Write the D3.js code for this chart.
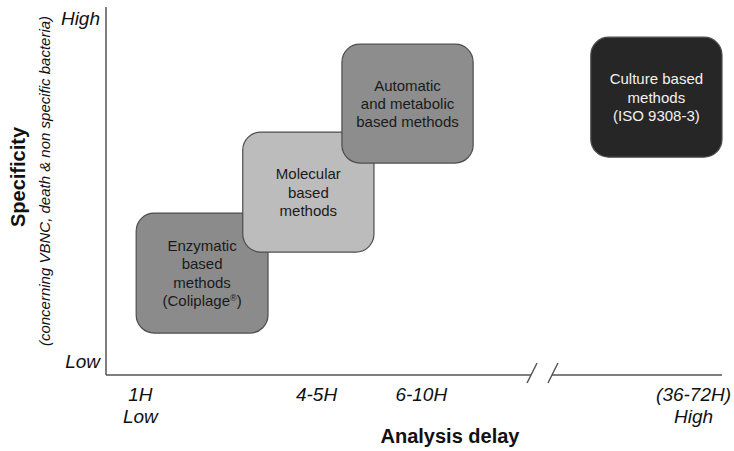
<!DOCTYPE html>
<html>
<head>
<meta charset="utf-8">
<script src="https://cdn.jsdelivr.net/npm/d3@7"></script>
<style>
  body { margin: 0; background: #fff; }
  text { font-family: "Liberation Sans", Arial, sans-serif; }
  .tick-label { font-style: italic; font-size: 19px; fill: #111; }
  .axis-title { font-weight: bold; font-size: 20px; fill: #111; }
  .box { stroke: #4d4d4d; stroke-width: 1.2; }
</style>
</head>
<body>
<svg id="chart" width="734" height="451"></svg>
<script>
// Delay (x) and specificity (y) are on a relative 0-100 scale
const methods = ["Enzymatic", "Molecular", "Automatic", "Culture"];
const boxLabels = [
  ["Enzymatic", "based", "methods", "(Coliplage\u00ae)"],
  ["Molecular", "based", "methods"],
  ["Automatic", "and metabolic", "based methods"],
  ["Culture based", "methods", "(ISO 9308-3)"]
];
const delayFrom = [4.9, 22.2, 38.3, 78.7];
const delayTo = [26.3, 43.5, 59.6, 100];
const specFrom = [11.4, 33.4, 57.6, 59.2];
const specTo = [44.0, 66.0, 89.9, 91.8];

const xTickValues = [5.5, 34.1, 51.1, 95.3];
const xTickLabels = [["1H", "Low"], ["4-5H"], ["6-10H"], ["(36-72H)", "High"]];
const yTickValues = [3.7, 96.9];
const yTickLabels = ["Low", "High"];
const axisBreak = [69.0, 72.4];

const fills = ["#8b8b8b", "#bcbcbc", "#8d8d8d", "#262626"];
const textFills = ["#1a1a1a", "#1a1a1a", "#1a1a1a", "#f2f2f2"];

const svg = d3.select("#chart");
const x = d3.scaleLinear().domain([0, 100]).range([106, 722]);
const y = d3.scaleLinear().domain([0, 100]).range([375, 7]);

// Axis lines (x axis has a break)
const axisColor = "#555";
svg.append("line")
  .attr("x1", x(0)).attr("x2", x(0))
  .attr("y1", y(100)).attr("y2", y(0))
  .attr("stroke", axisColor).attr("stroke-width", 1.5);
svg.append("line")
  .attr("x1", x(0)).attr("x2", x(axisBreak[0]))
  .attr("y1", y(0)).attr("y2", y(0))
  .attr("stroke", axisColor).attr("stroke-width", 1.5);
svg.append("line")
  .attr("x1", x(axisBreak[1])).attr("x2", x(100))
  .attr("y1", y(0)).attr("y2", y(0))
  .attr("stroke", axisColor).attr("stroke-width", 1.5);

svg.selectAll(".slash")
  .data(axisBreak)
  .enter().append("line")
  .attr("class", "slash")
  .attr("x1", d => x(d) - 4).attr("y1", y(0) + 8)
  .attr("x2", d => x(d) + 6).attr("y2", y(0) - 12)
  .attr("stroke", axisColor).attr("stroke-width", 1.5);

// Boxes
const boxes = svg.selectAll(".method")
  .data(methods)
  .enter().append("g")
  .attr("class", "method");

boxes.append("rect")
  .attr("class", "box")
  .attr("x", (d, i) => x(delayFrom[i]))
  .attr("y", (d, i) => y(specTo[i]))
  .attr("width", (d, i) => x(delayTo[i]) - x(delayFrom[i]))
  .attr("height", (d, i) => y(specFrom[i]) - y(specTo[i]))
  .attr("rx", 18).attr("ry", 18)
  .attr("fill", (d, i) => fills[i]);

const lineH = 18.3;
boxes.append("text")
  .attr("text-anchor", "middle")
  .attr("font-size", 15)
  .attr("fill", (d, i) => textFills[i])
  .each(function(d, i) {
    const cx = (x(delayFrom[i]) + x(delayTo[i])) / 2;
    const cy = (y(specFrom[i]) + y(specTo[i])) / 2;
    const lines = boxLabels[i];
    const first = cy - (lines.length - 1) * lineH / 2 + 5.5;
    d3.select(this).selectAll("tspan")
      .data(lines)
      .enter().append("tspan")
      .attr("x", cx)
      .attr("y", (t, j) => first + j * lineH)
      .each(function(t) {
        // registered mark drawn as a small superscript
        const parts = t.split("\u00ae");
        const line = d3.select(this);
        line.append("tspan").text(parts[0]);
        if (parts.length > 1) {
          line.append("tspan").attr("font-size", 9).attr("dy", -5).text("\u00ae");
          line.append("tspan").attr("dy", 5).text(parts[1]);
        }
      });
  });

// Tick labels
const yAxis = d3.axisLeft(y)
  .tickValues(yTickValues)
  .tickFormat((d, i) => yTickLabels[i])
  .tickSize(0).tickPadding(6);
const gy = svg.append("g").attr("transform", "translate(" + x(0) + ",0)").call(yAxis);
gy.select(".domain").remove();
gy.attr("font-size", null).attr("font-family", null);
gy.selectAll("text").attr("class", "tick-label");

const xAxis = d3.axisBottom(x)
  .tickValues(xTickValues)
  .tickFormat("")
  .tickSize(0);
const gx = svg.append("g").attr("transform", "translate(0," + y(0) + ")").call(xAxis);
gx.select(".domain").remove();
gx.attr("font-size", null).attr("font-family", null);
gx.selectAll(".tick text")
  .attr("class", "tick-label")
  .attr("dy", null)
  .attr("y", 26)
  .each(function(d, i) {
    d3.select(this).selectAll("tspan")
      .data(xTickLabels[i])
      .enter().append("tspan")
      .attr("x", 0)
      .attr("dy", (t, j) => j === 0 ? 0 : 22)
      .text(t => t);
  });

// Axis titles
svg.append("text")
  .attr("class", "axis-title")
  .attr("x", 450).attr("y", 443)
  .attr("text-anchor", "middle")
  .text("Analysis delay");

svg.append("text")
  .attr("class", "axis-title")
  .attr("transform", "translate(25,177) rotate(-90)")
  .attr("text-anchor", "middle")
  .text("Specificity");

svg.append("text")
  .attr("transform", "translate(50,181) rotate(-90)")
  .attr("text-anchor", "middle")
  .attr("font-style", "italic")
  .attr("font-size", 15)
  .attr("fill", "#111")
  .text("(concerning VBNC, death & non specific bacteria)");
</script>
</body>
</html>
